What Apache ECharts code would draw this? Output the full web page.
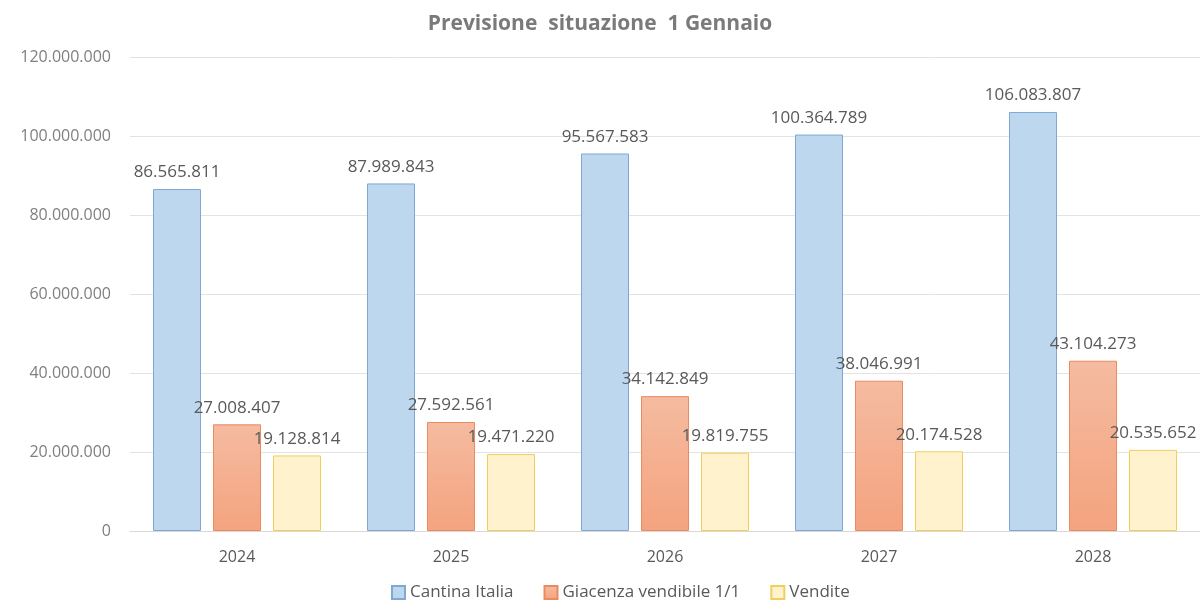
<!DOCTYPE html>
<html>
<head>
<meta charset="utf-8">
<script src="https://cdn.jsdelivr.net/npm/echarts@6/dist/echarts.min.js"></script>
<style>
  html, body { margin: 0; padding: 0; background: #fff; }
  #main { width: 1200px; height: 601px; }
</style>
</head>
<body>
<div id="main"></div>
<script>
// dati
const anni = ['2024', '2025', '2026', '2027', '2028'];
const cantinaItalia = [86565811, 87989843, 95567583, 100364789, 106083807];
const giacenza = [27008407, 27592561, 34142849, 38046991, 43104273];
const vendite = [19128814, 19471220, 19819755, 20174528, 20535652];

// separatore migliaia con punto
const fmt = v => String(Math.round(v)).replace(/\B(?=(\d{3})+(?!\d))/g, '.');

const chart = echarts.init(document.querySelector('#main'));
const labelStyle = {
    show: true,
    position: 'top',
    distance: 8,
    fontSize: 17,
    color: '#595959',
    fontFamily: 'Open Sans',
    formatter: p => fmt(p.value)
};

chart.setOption({
    animation: false,
    title: {
        text: 'Previsione  situazione  1 Gennaio',
        left: 'center',
        top: 9,
        textStyle: {
            fontSize: 21,
            fontWeight: 'bold',
            color: '#7a7a7a',
            fontFamily: 'Open Sans'
        }
    },
    legend: {
        bottom: -5,
        left: 386,
        icon: 'rect',
        itemWidth: 13,
        itemHeight: 13,
        itemGap: 30,
        textStyle: {
            fontSize: 17,
            color: '#595959',
            fontFamily: 'Open Sans'
        }
    },
    grid: {
        left: 130,
        width: 1075,
        top: 57,
        bottom: 70
    },
    xAxis: {
        type: 'category',
        data: anni,
        axisLine: { lineStyle: { color: '#d9d9d9' } },
        axisTick: { show: false },
        axisLabel: {
            fontSize: 16,
            color: '#595959',
            margin: 18,
            fontFamily: 'Open Sans'
        }
    },
    yAxis: {
        type: 'value',
        min: 0,
        max: 120000000,
        interval: 20000000,
        axisLine: { show: false },
        axisTick: { show: false },
        axisLabel: {
            fontSize: 16,
            color: '#7f7f7f',
            margin: 19,
            fontFamily: 'Open Sans',
            formatter: v => fmt(v)
        },
        splitLine: { lineStyle: { color: '#e3e3e3' } }
    },
    series: [
        {
            name: 'Cantina Italia',
            type: 'bar',
            data: cantinaItalia,
            barWidth: 48,
            barGap: '25%',
            itemStyle: {
                color: '#bdd7ee',
                borderColor: '#7fa8d3',
                borderWidth: 1
            },
            label: labelStyle
        },
        {
            name: 'Giacenza vendibile 1/1',
            type: 'bar',
            data: giacenza,
            barWidth: 48,
            itemStyle: {
                color: {
                    type: 'linear',
                    x: 0, y: 0, x2: 0, y2: 1,
                    colorStops: [
                        { offset: 0, color: '#f5bba0' },
                        { offset: 1, color: '#f4a37f' }
                    ]
                },
                borderColor: '#e98a5f',
                borderWidth: 1
            },
            label: labelStyle
        },
        {
            name: 'Vendite',
            type: 'bar',
            data: vendite,
            barWidth: 48,
            itemStyle: {
                color: '#fff2cc',
                borderColor: '#f0cf5c',
                borderWidth: 1
            },
            label: labelStyle
        }
    ]
});
</script>
</body>
</html>
